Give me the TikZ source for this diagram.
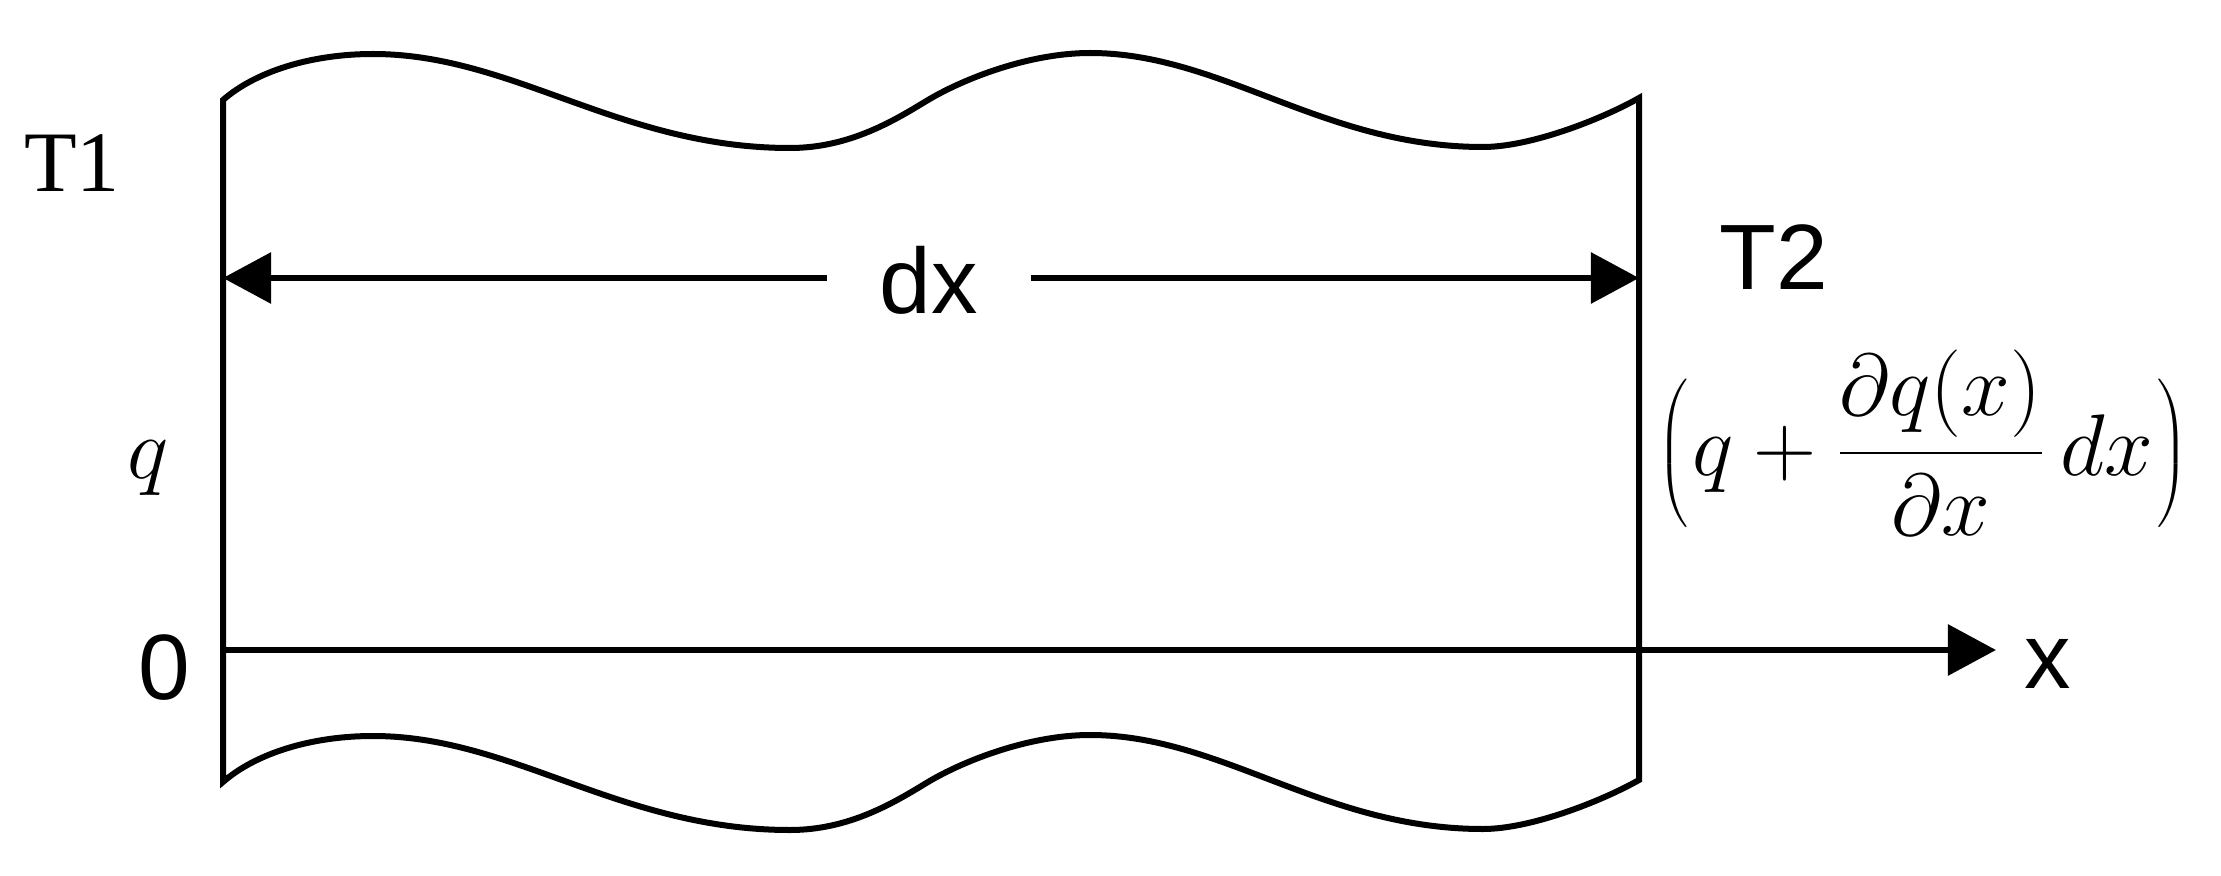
\documentclass[tikz,border=0pt]{standalone}
\usepackage{fontspec}
\setmainfont{Liberation Serif}
\setsansfont{Liberation Sans}
\usetikzlibrary{arrows.meta}
\newcommand\lparB{\mathopen{\left(\vcenter{\hbox{\rule{0pt}{1.75em}}}\right.}}
\newcommand\rparB{\mathclose{\left.\vcenter{\hbox{\rule{0pt}{1.75em}}}\right)}}
\begin{document}
\begin{tikzpicture}[x=0.01cm,y=-0.01cm,line width=0.06cm,
  sanslbl/.style={font=\fontsize{26.4}{30}\selectfont\sffamily,inner sep=0},
  seriflbl/.style={font=\fontsize{24.5}{28}\selectfont,inner sep=0},
  mathlbl/.style={font=\fontsize{25}{30}\selectfont,inner sep=0},
  tipA/.style={-{Triangle[length=0.48cm,width=0.5cm]}}]
\useasboundingbox (0,0) rectangle (2221,876);
% corners
\coordinate (TL) at (223,100);
\coordinate (TR) at (1639,98);
\coordinate (BL) at (223,782);
\coordinate (BR) at (1639,780);
% slab outline
\draw (TL) .. controls (255,72) and (310,54) .. (373,54)
  .. controls (513,54) and (620,148) .. (790,148)
  .. controls (850,148) and (895,120) .. (928,100)
  .. controls (965,78) and (1030,53) .. (1090,53)
  .. controls (1222,53) and (1323,147) .. (1483,147)
  .. controls (1530,147) and (1600,120) .. (TR)
  -- (BR)
  .. controls (1600,802) and (1530,829) .. (1483,829)
  .. controls (1323,829) and (1222,735) .. (1090,735)
  .. controls (1030,735) and (965,760) .. (928,782)
  .. controls (895,802) and (850,830) .. (790,830)
  .. controls (620,830) and (513,736) .. (373,736)
  .. controls (310,736) and (255,754) .. (BL)
  -- cycle;
% labels
\node[seriflbl,anchor=base] (T1) at (72,192) {T1};
\node[mathlbl,anchor=base] (qL) at (148,478) {$q$};
\node[sanslbl,anchor=base] (zero) at (164,699) {0};
\node[sanslbl,anchor=base,inner xsep=0.5cm] (dx) at (929,314) {dx};
\node[sanslbl,anchor=base] (T2) at (1774,289) {T2};
\node[sanslbl,anchor=base] (xl) at (2048,688) {x};
\node[mathlbl,anchor=base] (flux) at (1923,475)
  {$\displaystyle\lparB q+\frac{\partial q(x)}{\partial x}\,dx\rparB$};
% dx dimension arrows
\coordinate (dL) at (223,278);
\coordinate (dR) at (1639,278);
\draw[tipA] (dx.west |- dL) -- (dL);
\draw[tipA] (dx.east |- dR) -- (dR);
% x axis
\coordinate (O) at (223,650);
\coordinate (xend) at (1996,650);
\draw[tipA] (O) -- (xend);
\end{tikzpicture}
\end{document}
